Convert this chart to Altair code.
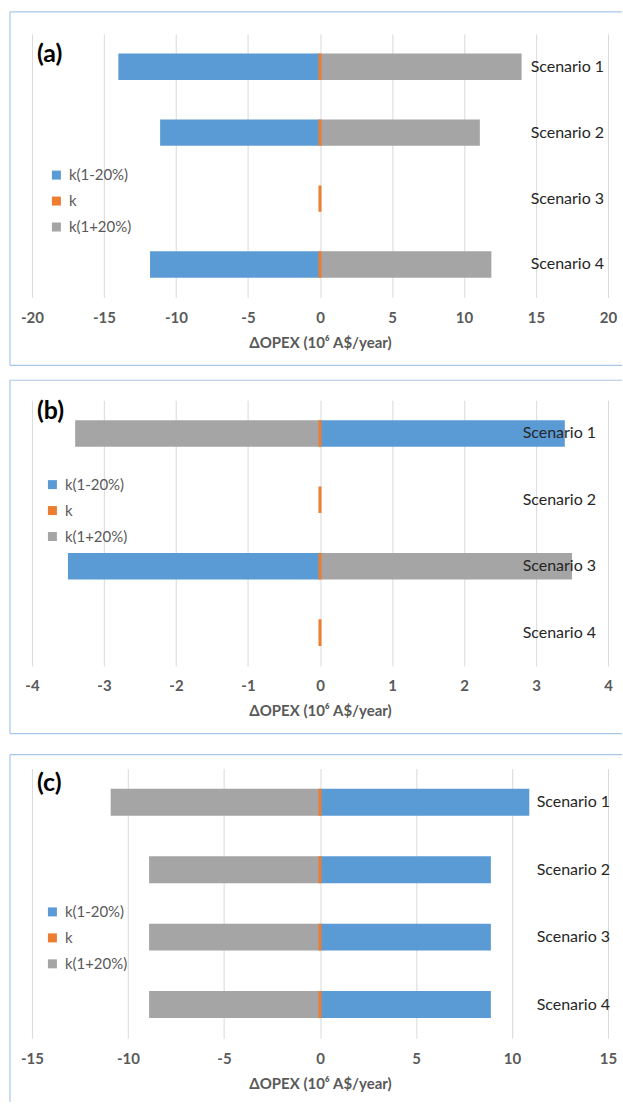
import altair as alt
import pandas as pd

# Categories and series
scenarios = ["Scenario 1", "Scenario 2", "Scenario 3", "Scenario 4"]
series_names = ["k(1-20%)", "k", "k(1+20%)"]
series_colors = ["#5B9BD5", "#ED7D31", "#A5A5A5"]

# ΔOPEX (10^6 A$/year) for each panel
a_low = [-14.0, -11.1, 0.0, -11.8]
a_base = [0.0, 0.0, 0.0, 0.0]
a_high = [14.0, 11.1, 0.0, 11.9]

b_low = [3.4, 0.0, -3.5, 0.0]
b_base = [0.0, 0.0, 0.0, 0.0]
b_high = [-3.4, 0.0, 3.5, 0.0]

c_low = [10.9, 8.9, 8.9, 8.9]
c_base = [0.0, 0.0, 0.0, 0.0]
c_high = [-10.9, -8.9, -8.9, -8.9]

# Axis ticks per panel
a_ticks = [-20, -15, -10, -5, 0, 5, 10, 15, 20]
b_ticks = [-4, -3, -2, -1, 0, 1, 2, 3, 4]
c_ticks = [-15, -10, -5, 0, 5, 10, 15]

FONT = "Lato"
AXIS_GRAY = "#595959"
FRAME = "#A7C7E7"
W = 577
X_TITLE = "ΔOPEX (10⁶ A$/year)"


def panel(letter, low, base, high, ticks, height, label_pad, legend_x, legend_y,
          letter_y, frame_top, frame_bottom, bottom_edge=True):
    rows = []
    for i, s in enumerate(scenarios):
        rows.append({"scenario": s, "series": series_names[0], "value": low[i]})
        rows.append({"scenario": s, "series": series_names[2], "value": high[i]})
    side = pd.DataFrame(rows)
    mid = pd.DataFrame({"scenario": scenarios, "series": series_names[1], "value": base})

    y = alt.Y(
        "scenario:N",
        sort=scenarios,
        title=None,
        scale=alt.Scale(paddingInner=0.6, paddingOuter=0.3),
        axis=alt.Axis(
            orient="right", domain=False, ticks=False, grid=False,
            labelAlign="left", labelPadding=label_pad, labelFont=FONT,
            labelFontSize=16, labelColor="#262626", zindex=2,
        ),
    )
    x = alt.X(
        "value:Q",
        title=X_TITLE,
        stack=None,
        scale=alt.Scale(domain=[ticks[0], ticks[-1]], nice=False, zero=True),
        axis=alt.Axis(
            values=ticks, grid=True, gridColor="#D9D9D9", domain=False,
            ticks=False, tickSize=0, labelPadding=13, labelFlush=False,
            labelFont=FONT, labelFontSize=15, labelFontWeight="bold",
            labelColor=AXIS_GRAY, labelExpr="'' + datum.value",
            titleFont=FONT, titleFontSize=15, titleFontWeight="bold",
            titleColor=AXIS_GRAY, titlePadding=10, zindex=0,
        ),
    )
    color = alt.Color(
        "series:N",
        scale=alt.Scale(domain=series_names, range=series_colors),
        legend=alt.Legend(
            title=None, orient="none", legendX=legend_x, legendY=legend_y,
            symbolType="square", symbolSize=81, symbolStrokeWidth=0,
            labelFont=FONT, labelFontSize=15, labelColor=AXIS_GRAY,
            labelOffset=5, rowPadding=10, padding=0,
        ),
    )

    bars = alt.Chart(side).mark_bar().encode(x=x, y=y, color=color)
    base_bar = alt.Chart(mid).mark_bar(stroke="#ED7D31", strokeWidth=3).encode(
        x=x, y=y, color=color
    )

    tag = alt.Chart(pd.DataFrame({"label": [letter]})).mark_text(
        align="left", baseline="middle", font=FONT, fontSize=25,
        fontWeight="bold", color="#000000",
    ).encode(x=alt.value(5), y=alt.value(letter_y), text="label:N")

    # panel frame: top, left and bottom edges
    one = alt.Data(values=[{"k": 1}])
    right = W + 14
    frame = [
        alt.Chart(one).mark_rule(color=FRAME, strokeWidth=1.2).encode(
            x=alt.value(-22), x2=alt.value(right), y=alt.value(frame_top)),
        alt.Chart(one).mark_rule(color=FRAME, strokeWidth=1.2).encode(
            x=alt.value(-22), y=alt.value(frame_top), y2=alt.value(frame_bottom)),
    ]
    if bottom_edge:
        frame.append(
            alt.Chart(one).mark_rule(color=FRAME, strokeWidth=1.2).encode(
                x=alt.value(-22), x2=alt.value(right), y=alt.value(frame_bottom))
        )

    return alt.layer(*frame, bars, base_bar, tag).properties(width=W, height=height)


pa = panel("(a)", a_low, a_base, a_high, a_ticks, 264, -78, 17, 134, 20, -22, 332)
pb = panel("(b)", b_low, b_base, b_high, b_ticks, 266, -86, 13, 77, 11, -20, 334)
pc = panel("(c)", c_low, c_base, c_high, c_ticks, 270, -72, 13, 136, 14, -14, 334,
           bottom_edge=False)

chart = (
    alt.vconcat(pa, pb, pc, spacing=103, bounds="flush")
    .resolve_scale(color="independent", x="independent", y="independent")
    .resolve_legend(color="independent")
    .properties(padding={"left": 9, "top": 10, "right": 0, "bottom": 0},
                background="white")
    .configure_view(strokeWidth=0)
)

chart.save("out.html", embed_options={"renderer": "svg", "actions": False})
